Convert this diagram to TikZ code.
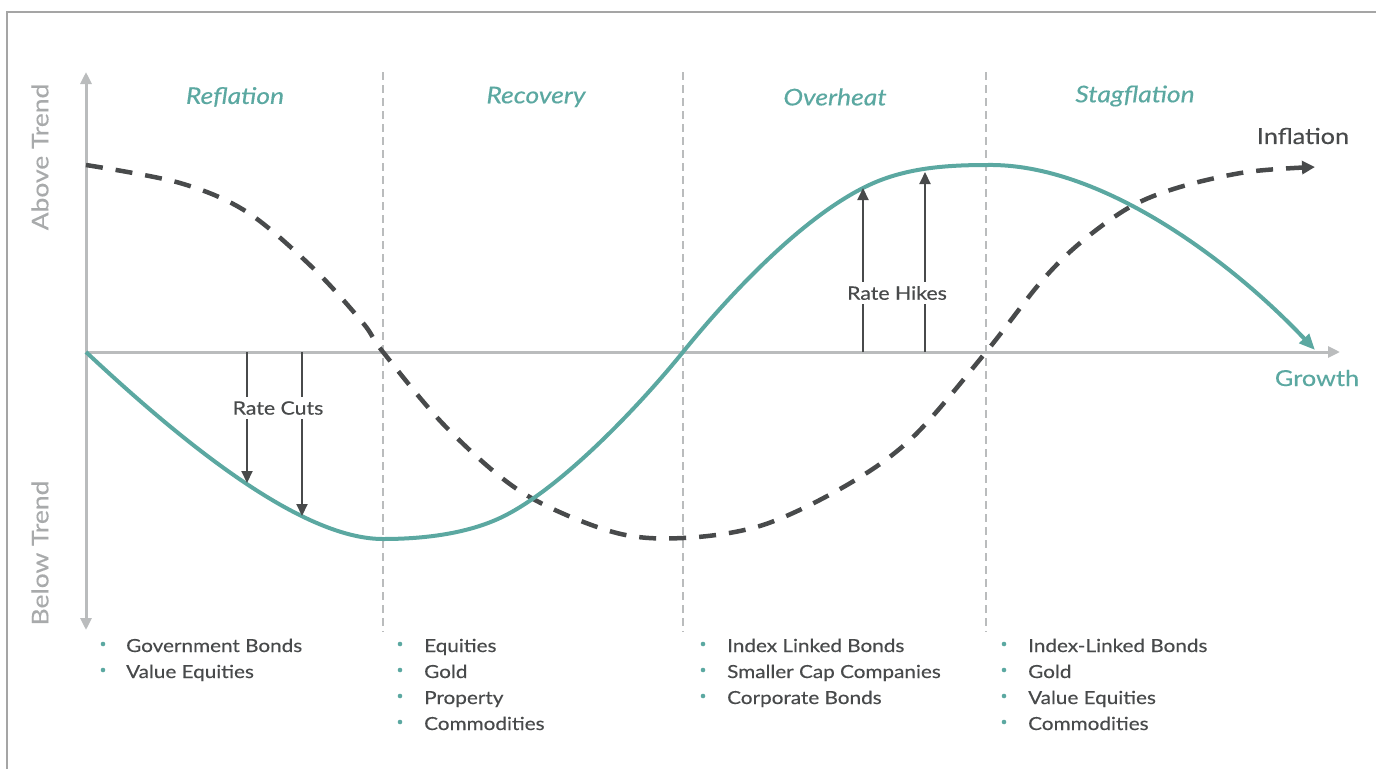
\documentclass[tikz,border=0pt]{standalone}
\usepackage{fontspec}
\setmainfont[FakeStretch=1.15,FakeBold=0.35]{Lato}
\usetikzlibrary{arrows.meta}
\definecolor{tealc}{RGB}{91,168,161}
\definecolor{ink}{RGB}{72,74,75}
\definecolor{axisgray}{RGB}{186,188,189}
\definecolor{framegray}{RGB}{165,165,165}
\definecolor{trendgray}{RGB}{168,170,171}
\tikzset{
  axistip/.tip={Triangle[length=12pt,width=11pt]},
  axisline/.style={draw=axisgray, line width=3pt},
  phaseline/.style={draw=axisgray, line width=2.5pt, dash pattern=on 8pt off 5pt},
  growthcurve/.style={draw=tealc, line width=4pt, -{Triangle[length=16pt,width=13pt]}},
  inflcurve/.style={draw=ink, line width=4.5pt, dash pattern=on 17pt off 13pt, -{Triangle[length=13pt,width=13pt]}},
  ratearrow/.style={draw=ink, line width=2pt, -{Triangle[length=12pt,width=11pt]}},
  phase/.style={text=tealc, font=\fontsize{23}{27}\selectfont\itshape},
  trend/.style={text=trendgray, font=\fontsize{23}{27}\selectfont, rotate=90},
  ratelabel/.style={text=ink, fill=white, inner sep=4pt, font=\fontsize{18.5}{22}\selectfont},
  asset/.style={text=ink, anchor=base west, inner sep=0pt, font=\fontsize{18}{22}\selectfont},
}
\begin{document}
\begin{tikzpicture}[x=1pt,y=-1pt]
  \useasboundingbox (0,0) rectangle (1376,769);
  % frame
  \draw[framegray, line width=1.5pt] (7,769) -- (7,12) -- (1376,12);
  % axes
  \coordinate (top) at (86,72);
  \coordinate (bottom) at (86,630);
  \coordinate (origin) at (86,352);
  \coordinate (right) at (1340,352);
  \draw[axisline, axistip-axistip] (bottom) -- (top);
  \draw[axisline, -axistip] (origin) -- (right);
  % phase borders
  \foreach \x in {383,683,986}
    \draw[phaseline] (\x,72) -- (\x,632);
  % phase names
  \node[phase] (reflation) at (235,97) {Reflation};
  \node[phase] (recovery) at (536,97) {Recovery};
  \node[phase] (overheat) at (835,97) {Overheat};
  \node[phase] (stagflation) at (1135,96) {Stagflation};
  \node[trend] (above) at (40,157) {Above Trend};
  \node[trend] (below) at (40,553) {Below Trend};
  % inflation
  \draw[inflcurve] plot[smooth, tension=0.55] coordinates {
    (86,165) (180,183) (247,212) (313,268) (363,323) (383,352)
    (447,428) (523,493) (613,532) (683,538) (763,525) (847,485)
    (913,437) (986,352) (1040,283) (1080,243) (1130,207) (1180,187)
    (1247,172) (1315,167)};
  \node[text=ink, font=\fontsize{22}{26}\selectfont] (inflation) at (1303,136) {Inflation};
  % growth
  \draw[growthcurve] (origin)
    .. controls (180,440) and (300,539) .. (383,539)
    .. controls (430,539) and (470,532) .. (500,518)
    .. controls (560,490) and (640,405) .. (683,352)
    .. controls (730,294) and (800,220) .. (863,188)
    .. controls (900,169) and (940,165) .. (987,165)
    .. controls (1100,163) and (1230,260) .. (1315,350);
  \node[text=tealc, font=\fontsize{22}{26}\selectfont] (growth) at (1317,378) {Growth};
  % rate cuts and hikes
  \coordinate (c1) at (247,352);
  \coordinate (c2) at (302,352);
  \coordinate (h1) at (863,352);
  \coordinate (h2) at (925,352);
  \draw[ratearrow] (c1) -- (247,483);
  \draw[ratearrow] (c2) -- (302,516);
  \draw[ratearrow] (h1) -- (863,188);
  \draw[ratearrow] (h2) -- (925,172);
  \node[ratelabel] (cuts) at (278,408) {Rate Cuts};
  \node[ratelabel] (hikes) at (897,293) {Rate Hikes};
  % asset lists
  \foreach \txt [count=\i] in {Government Bonds, Value Equities} {
    \fill[tealc] (103,{618+26*\i}) circle (2.3pt);
    \node[asset] (a\i) at (126,{626+26*\i}) {\txt};
  }
  \foreach \txt [count=\i] in {Equities, Gold, Property, Commodities} {
    \fill[tealc] (400,{618+26*\i}) circle (2.3pt);
    \node[asset] (b\i) at (424,{626+26*\i}) {\txt};
  }
  \foreach \txt [count=\i] in {Index Linked Bonds, Smaller Cap Companies, Corporate Bonds} {
    \fill[tealc] (703,{618+26*\i}) circle (2.3pt);
    \node[asset] (d\i) at (727,{626+26*\i}) {\txt};
  }
  \foreach \txt [count=\i] in {Index-Linked Bonds, Gold, Value Equities, Commodities} {
    \fill[tealc] (1004,{618+26*\i}) circle (2.3pt);
    \node[asset] (e\i) at (1028,{626+26*\i}) {\txt};
  }
\end{tikzpicture}
\end{document}
